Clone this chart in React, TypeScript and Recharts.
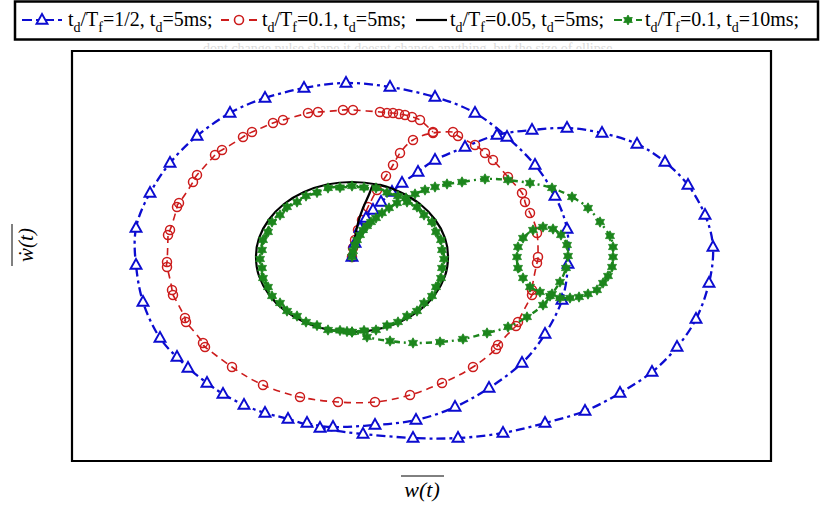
import React from 'react';
import { ScatterChart, Scatter, XAxis, YAxis, ReferenceArea } from 'recharts';

type Pt = [number, number];

// Phase trajectories (w, w-dot), all starting from the origin and settling on a limit cycle.
// td/Tf = 1/2, td = 5 ms
const BLUE_TRACE: Pt[] = [
  [0, 0], [0.03, 0.14], [0.08, 0.29], [0.14, 0.39], [0.21, 0.47], [0.29, 0.55], [0.4, 0.65],
  [0.5, 0.74], [0.66, 0.85], [0.83, 0.97], [1.13, 1.1], [1.45, 1.22],
  [1.8, 1.27], [2.15, 1.29], [2.5, 1.24], [2.85, 1.13], [3.13, 0.95], [3.36, 0.72], [3.53, 0.42],
  [3.61, 0.1], [3.57, -0.26], [3.44, -0.62], [3.25, -0.9], [3.0, -1.15], [2.68, -1.36],
  [2.33, -1.54], [1.93, -1.66], [1.51, -1.76], [1.06, -1.81], [0.61, -1.81], [0.11, -1.77],
  [-0.32, -1.71], [-0.64, -1.62], [-0.87, -1.56], [-1.08, -1.48], [-1.29, -1.37], [-1.45, -1.26],
  [-1.64, -1.11], [-1.75, -1.0], [-1.92, -0.81], [-2.09, -0.45], [-2.16, -0.08], [-2.16, 0.29],
  [-2.02, 0.64], [-1.82, 0.94], [-1.55, 1.21], [-1.22, 1.44], [-0.87, 1.59], [-0.48, 1.69],
  [-0.06, 1.74], [0.38, 1.7], [0.83, 1.6], [1.23, 1.44], [1.55, 1.2], [1.83, 0.92], [2.03, 0.61],
  [2.15, 0.28], [2.16, -0.07], [2.1, -0.43], [1.93, -0.77], [1.7, -1.06], [1.37, -1.31],
  [1.03, -1.5], [0.64, -1.63], [0.23, -1.68], [-0.19, -1.7], [-0.45, -1.66],
];

// td/Tf = 0.1, td = 5 ms
const RED_TRACE: Pt[] = [
  [0, 0], [0.01, 0.09], [0.03, 0.17], [0.06, 0.27], [0.1, 0.37], [0.16, 0.5], [0.25, 0.67],
  [0.34, 0.81], [0.41, 0.92], [0.48, 1.04], [0.61, 1.17], [0.81, 1.24], [1.01, 1.25], [1.06, 1.21],
  [1.23, 1.12], [1.33, 1.04], [1.41, 0.97], [1.56, 0.8], [1.7, 0.64], [1.73, 0.55], [1.78, 0.44],
  [1.85, 0.24], [1.86, 0.0], [1.85, -0.06], [1.8, -0.33], [1.8, -0.38], [1.66, -0.65], [1.64, -0.69],
  [1.46, -0.88], [1.44, -0.92], [1.21, -1.1], [0.9, -1.26], [0.58, -1.38], [0.23, -1.45],
  [-0.14, -1.45], [-0.52, -1.4], [-0.89, -1.28], [-1.2, -1.1], [-1.47, -0.9], [-1.49, -0.86],
  [-1.66, -0.65], [-1.67, -0.61], [-1.79, -0.38], [-1.8, -0.33], [-1.85, -0.1], [-1.85, -0.05],
  [-1.84, 0.22], [-1.82, 0.27], [-1.75, 0.5], [-1.73, 0.54], [-1.59, 0.75], [-1.55, 0.82],
  [-1.37, 1.02], [-1.3, 1.07], [-1.09, 1.2], [-1.0, 1.25], [-0.79, 1.34], [-0.69, 1.37],
  [-0.44, 1.44], [-0.34, 1.45], [-0.09, 1.47], [0.01, 1.47], [0.28, 1.45], [0.35, 1.44],
  [0.41, 1.44], [0.47, 1.43], [0.53, 1.42], [0.6, 1.4], [0.68, 1.37], [0.81, 1.25],
];

// td/Tf = 0.05, td = 5 ms
const BLACK_TRACE: Pt[] = [
  [0, 0], [0.02, 0.12], [0.05, 0.3], [0.11, 0.49], [0.18, 0.65], [0.25, 0.725], [0.48, 0.65],
  [0.68, 0.53], [0.83, 0.375], [0.93, 0.19], [0.96, 0], [0.93, -0.19], [0.83, -0.375],
  [0.68, -0.53], [0.48, -0.65], [0.25, -0.725], [0, -0.75], [-0.25, -0.725], [-0.48, -0.65],
  [-0.68, -0.53], [-0.83, -0.375], [-0.93, -0.19], [-0.96, 0], [-0.93, 0.19], [-0.83, 0.375],
  [-0.68, 0.53], [-0.48, 0.65], [-0.25, 0.725], [0, 0.75], [0.25, 0.725], [0.48, 0.65], [0.68, 0.53],
];

// td/Tf = 0.1, td = 10 ms
const GREEN_TRACE: Pt[] = [
  [0, 0], [0.01, 0.06], [0.03, 0.12], [0.05, 0.17], [0.08, 0.22], [0.11, 0.27], [0.15, 0.31],
  [0.19, 0.35], [0.24, 0.39], [0.3, 0.44], [0.37, 0.49], [0.45, 0.54], [0.54, 0.59], [0.63, 0.63],
  [0.73, 0.67], [0.83, 0.7], [0.95, 0.73],
  [1.1, 0.75], [1.33, 0.78], [1.56, 0.77], [1.78, 0.74], [2.0, 0.69], [2.2, 0.6], [2.36, 0.49],
  [2.48, 0.35], [2.58, 0.21], [2.61, 0.1], [2.61, 0.0], [2.6, -0.1], [2.56, -0.19], [2.51, -0.26],
  [2.45, -0.33], [2.36, -0.37], [2.27, -0.4], [2.18, -0.41], [2.08, -0.41], [1.98, -0.39],
  [1.88, -0.35], [1.78, -0.3], [1.71, -0.21], [1.66, -0.11], [1.65, 0.0], [1.66, 0.1], [1.71, 0.19],
  [1.81, 0.27], [1.91, 0.3], [2.01, 0.28], [2.09, 0.22], [2.15, 0.12], [2.16, 0.01], [2.14, -0.11],
  [2.08, -0.25], [2.0, -0.37], [1.91, -0.48], [1.75, -0.6], [1.56, -0.7], [1.35, -0.76],
  [1.11, -0.82], [0.88, -0.85], [0.61, -0.86], [0.38, -0.84], [0.15, -0.8],
  [0, -0.75], [-0.24, -0.73], [-0.46, -0.65], [-0.65, -0.54], [-0.8, -0.39], [-0.89, -0.21],
  [-0.92, -0.02], [-0.89, 0.17], [-0.8, 0.35], [-0.65, 0.5], [-0.46, 0.61], [-0.24, 0.69],
  [0, 0.71], [0.24, 0.69], [0.46, 0.61], [0.65, 0.5], [0.8, 0.35], [0.89, 0.17], [0.92, -0.02],
  [0.89, -0.21], [0.8, -0.39], [0.65, -0.54], [0.46, -0.65], [0.24, -0.73], [0, -0.75],
  [-0.12, -0.735], [-0.35, -0.685], [-0.55, -0.59], [-0.72, -0.46], [-0.84, -0.3], [-0.9, -0.11],
  [-0.9, 0.07], [-0.84, 0.25], [-0.72, 0.42], [-0.55, 0.55], [-0.35, 0.645], [-0.12, 0.695],
  [0.12, 0.695], [0.35, 0.645], [0.55, 0.55], [0.72, 0.42], [0.84, 0.25], [0.9, 0.07],
  [0.9, -0.11], [0.84, -0.3], [0.72, -0.46], [0.55, -0.59], [0.35, -0.685], [0.12, -0.735],
  [-0.05, -0.745],
];

const X_DOMAIN: [number, number] = [-2.8, 4.19];
const Y_DOMAIN: [number, number] = [-2.04, 2.06];

type Part = [string, boolean];
const LEGEND_LABELS: Part[][] = [
  [['t', false], ['d', true], ['/T', false], ['f', true], ['=1/2, t', false], ['d', true], ['=5ms;', false]],
  [['t', false], ['d', true], ['/T', false], ['f', true], ['=0.1, t', false], ['d', true], ['=5ms;', false]],
  [['t', false], ['d', true], ['/T', false], ['f', true], ['=0.05, t', false], ['d', true], ['=5ms;', false]],
  [['t', false], ['d', true], ['/T', false], ['f', true], ['=0.1, t', false], ['d', true], ['=10ms;', false]],
];

const NOTE = 'dont change pulse shape it doesnt change anything, but the size of ellipse';

const BLUE = '#0c0cd0';
const RED = '#cc1c1c';
const GREEN = '#1c851c';
const SERIF = '"Liberation Serif", "Times New Roman", serif';

const rows = (pts: Pt[]) => pts.map(([x, y]) => ({ x, y }));

const starPath = (cx: number, cy: number, ro: number, ri: number) => {
  const pts: string[] = [];
  for (let i = 0; i < 12; i++) {
    const a = (Math.PI / 6) * i - Math.PI / 2;
    const r = i % 2 === 0 ? ro : ri;
    pts.push(`${(cx + r * Math.cos(a)).toFixed(2)},${(cy + r * Math.sin(a)).toFixed(2)}`);
  }
  return `M${pts.join('L')}Z`;
};

const triPath = (cx: number, cy: number) =>
  `M${cx},${cy - 6}L${cx + 5.5},${cy + 3.8}L${cx - 5.5},${cy + 3.8}Z`;

const TriangleMark = (p: any) =>
  p.cx == null ? <g /> : <path d={triPath(p.cx, p.cy)} fill="#fff" stroke={BLUE} strokeWidth={1.9} />;
const CircleMark = (p: any) =>
  p.cx == null ? <g /> : <circle cx={p.cx} cy={p.cy} r={4.5} fill="none" stroke={RED} strokeWidth={1.5} />;
const StarMark = (p: any) =>
  p.cx == null ? <g /> : <path d={starPath(p.cx, p.cy, 5.2, 3)} fill={GREEN} stroke={GREEN} strokeWidth={0.8} />;
const NoMark = () => <g />;

function LegendLabel({ x, parts }: { x: number; parts: Part[] }) {
  let prevSub = false;
  return (
    <text x={x} y={26} fontSize={20} fontFamily={SERIF} fill="#000">
      {parts.map(([s, sub], i) => {
        const dy = sub && !prevSub ? 6 : !sub && prevSub ? -6 : 0;
        prevSub = sub;
        return (
          <tspan key={i} dy={dy} fontSize={sub ? 14 : 20}>
            {s}
          </tspan>
        );
      })}
    </text>
  );
}

function Overlay() {
  return (
    <svg
      width={821}
      height={506}
      style={{ position: 'absolute', left: 0, top: 0, pointerEvents: 'none' }}
    >
      <defs>
        <clipPath id="noteClip">
          <rect x={0} y={40} width={821} height={9} />
        </clipPath>
      </defs>
      <text x={203} y={53} fontSize={14} fontFamily={SERIF} fill="#dadada" clipPath="url(#noteClip)">
        {NOTE}
      </text>

      <rect x={15} y={1.5} width={803} height={38} fill="#fff" stroke="#000" strokeWidth={2.5} />

      <line x1={22} y1={20} x2={62} y2={20} stroke={BLUE} strokeWidth={2.2} strokeDasharray="10 4 4 4" />
      <path d={triPath(42, 20)} fill="#fff" stroke={BLUE} strokeWidth={1.9} />
      <LegendLabel x={68} parts={LEGEND_LABELS[0]} />

      <line x1={221} y1={20} x2={258} y2={20} stroke={RED} strokeWidth={2} strokeDasharray="8 6" />
      <circle cx={239} cy={20} r={4.5} fill="#fff" stroke={RED} strokeWidth={1.6} />
      <LegendLabel x={262} parts={LEGEND_LABELS[1]} />

      <line x1={416} y1={20} x2={447} y2={20} stroke="#000" strokeWidth={2.2} />
      <LegendLabel x={450} parts={LEGEND_LABELS[2]} />

      <line x1={614} y1={20} x2={642} y2={20} stroke={GREEN} strokeWidth={2.2} strokeDasharray="8 8 2 4" />
      <path d={starPath(628, 20, 5, 2.8)} fill={GREEN} stroke={GREEN} strokeWidth={0.8} />
      <LegendLabel x={645} parts={LEGEND_LABELS[3]} />

      <text x={422} y={497} fontSize={22} fontFamily={SERIF} fontStyle="italic" textAnchor="middle">
        w(t)
      </text>
      <line x1={401} y1={476} x2={444} y2={476} stroke="#000" strokeWidth={1} />

      <g transform="translate(33,245) rotate(-90)">
        <text x={0} y={0} fontSize={21} fontFamily={SERIF} fontStyle="italic" textAnchor="middle">
          ẇ(t)
        </text>
        <line x1={-21} y1={-21} x2={21} y2={-21} stroke="#000" strokeWidth={1} />
      </g>
    </svg>
  );
}

export default function App() {
  return (
    <div style={{ position: 'absolute', left: 0, top: 0, width: 821, height: 506, background: '#fff' }}>
      <ScatterChart width={821} height={506} margin={{ top: 51, right: 50, bottom: 45, left: 72 }}>
        <XAxis type="number" dataKey="x" domain={X_DOMAIN} allowDataOverflow hide />
        <YAxis type="number" dataKey="y" domain={Y_DOMAIN} allowDataOverflow hide />
        <Scatter
          data={rows(RED_TRACE)}
          line={{ stroke: RED, strokeWidth: 1.6, strokeDasharray: '7 5' }}
          lineJointType="natural"
          shape={CircleMark}
          isAnimationActive={false}
        />
        <Scatter
          data={rows(BLUE_TRACE)}
          line={{ stroke: BLUE, strokeWidth: 2.3, strokeDasharray: '9 4 3 4' }}
          lineJointType="natural"
          shape={TriangleMark}
          isAnimationActive={false}
        />
        <Scatter
          data={rows(BLACK_TRACE)}
          line={{ stroke: '#000', strokeWidth: 2.2 }}
          lineJointType="natural"
          shape={NoMark}
          isAnimationActive={false}
        />
        <Scatter
          data={rows(GREEN_TRACE)}
          line={{ stroke: GREEN, strokeWidth: 2.4, strokeDasharray: '6 4 2 4' }}
          lineJointType="natural"
          shape={StarMark}
          isAnimationActive={false}
        />
        <ReferenceArea
          x1={X_DOMAIN[0]}
          x2={X_DOMAIN[1]}
          y1={Y_DOMAIN[0]}
          y2={Y_DOMAIN[1]}
          fill="none"
          stroke="#000"
          strokeWidth={2.2}
          ifOverflow="visible"
        />
      </ScatterChart>
      <Overlay />
    </div>
  );
}
